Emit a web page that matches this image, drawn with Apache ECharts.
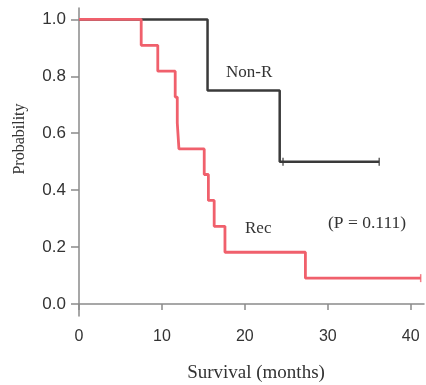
<!DOCTYPE html>
<html>
<head>
<meta charset="utf-8">
<script src="https://cdn.jsdelivr.net/npm/echarts@6/dist/echarts.min.js"></script>
<style>html,body{margin:0;padding:0;background:#fff;}#c{width:426px;height:385px;}</style>
</head>
<body>
<div id="c"></div>
<script>
// Kaplan-Meier curves: [time (months), survival probability]
const nonRSteps = [[0, 1.0], [15.5, 0.75], [24.2, 0.5], [36.2, 0.5]];
const nonRCensored = [[24.6, 0.5], [36.2, 0.5]];
const recSteps = [[0, 1.0], [7.5, 0.909], [9.5, 0.818], [11.6, 0.727], [11.85, 0.636], [12.05, 0.545],
  [15.1, 0.455], [15.6, 0.364], [16.3, 0.273], [17.6, 0.182], [27.3, 0.091], [41.2, 0.091]];
const recCensored = [[41.2, 0.091]];
const xTicks = [0, 10, 20, 30, 40];
const yTicks = [0, 0.2, 0.4, 0.6, 0.8, 1.0];

const chart = echarts.init(document.getElementById('c'));
const axisColor = '#8a8a8a';
const textColor = '#333';
const red = '#f0606c';
const black = '#3a3a3a';

chart.setOption({
  animation: false,
  grid: { left: 79, right: 2, top: 8, bottom: 69 },
  xAxis: {
    type: 'value', min: 0, max: 41.6,
    splitLine: { show: false },
    axisLine: { lineStyle: { color: axisColor, width: 1.5 } },
    axisTick: { customValues: xTicks, length: 6, lineStyle: { color: axisColor, width: 1.5 } },
    axisLabel: { customValues: xTicks, margin: 13, fontFamily: 'Liberation Sans', fontSize: 16, color: textColor }
  },
  yAxis: {
    type: 'value', min: -0.042, max: 1.04,
    splitLine: { show: false },
    axisLine: { lineStyle: { color: axisColor, width: 1.5 } },
    axisTick: { customValues: yTicks, length: 8, lineStyle: { color: axisColor, width: 1.5 } },
    axisLabel: { customValues: yTicks, margin: 13, fontFamily: 'Liberation Sans', fontSize: 17, color: textColor,
      formatter: v => v.toFixed(1) }
  },
  series: [
    { type: 'line', step: 'end', data: nonRSteps, symbol: 'none', lineStyle: { color: black, width: 2.5 }, z: 2 },
    { type: 'scatter', data: nonRCensored, symbol: 'rect', symbolSize: [1.5, 8], itemStyle: { color: black }, z: 2 },
    { type: 'line', step: 'end', data: recSteps, symbol: 'none', lineStyle: { color: red, width: 2.8 }, z: 3 },
    { type: 'scatter', data: recCensored, symbol: 'rect', symbolSize: [1.5, 8], itemStyle: { color: red }, z: 3 }
  ],
  graphic: [
    { type: 'text', x: 226, y: 73, style: { text: 'Non-R', font: '17px "Liberation Serif"', fill: textColor, textVerticalAlign: 'middle' } },
    { type: 'text', x: 245, y: 229, style: { text: 'Rec', font: '17px "Liberation Serif"', fill: textColor, textVerticalAlign: 'middle' } },
    { type: 'text', x: 328, y: 223, style: { text: '(P = 0.111)', font: '17.5px "Liberation Serif"', fill: textColor, textVerticalAlign: 'middle' } },
    { type: 'text', x: 256, y: 373, style: { text: 'Survival (months)', font: '19px "Liberation Serif"', fill: textColor, textAlign: 'center', textVerticalAlign: 'middle' } },
    { type: 'text', x: 20, y: 139, rotation: Math.PI / 2, style: { text: 'Probability', font: '16px "Liberation Serif"', fill: textColor, textAlign: 'center', textVerticalAlign: 'middle' } }
  ]
});
</script>
</body>
</html>
